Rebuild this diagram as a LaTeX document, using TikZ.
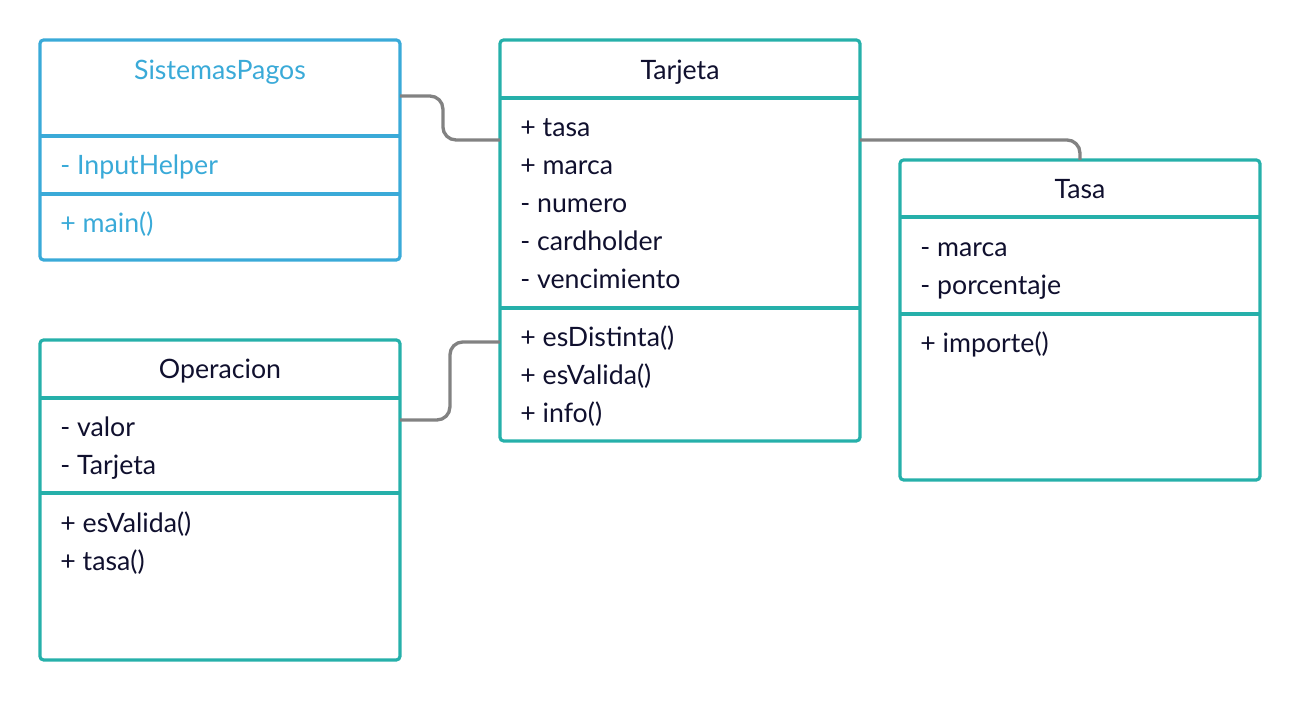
\documentclass[tikz,border=0pt]{standalone}
\usepackage{fontspec}
\setmainfont{Lato}
\usepackage{tikz}

\definecolor{umlteal}{HTML}{26B0AA}
\definecolor{umlblue}{HTML}{3AAAD8}
\definecolor{umltext}{HTML}{10102E}
\definecolor{umlgray}{HTML}{828282}

\tikzset{
  classbox/.style={draw=umlteal, line width=1.8pt, rounded corners=2pt, anchor=north west,
    inner sep=0pt, outer sep=0pt, minimum width=7.2cm},
  divider/.style={draw=umlteal, line width=1.8pt},
  title/.style={font=\fontsize{15.2}{18}\selectfont, text=umltext, inner sep=0pt,
    text height=10pt, text depth=3pt},
  member/.style={title, anchor=west},
  link/.style={draw=umlgray, line width=1.9pt, rounded corners=0.26cm}
}

\begin{document}
\begin{tikzpicture}[x=0.02cm, y=-0.02cm]
  \useasboundingbox (0,0) rectangle (1301,700);

  % SistemasPagos
  \node[classbox, draw=umlblue, minimum height=4.4cm] (sistemas) at (40,40) {};
  \draw[divider, umlblue] (40,136) -- (400,136);
  \draw[divider, umlblue] (40,194) -- (400,194);
  \node[title, text=umlblue] (sistemas-t) at (220,73) {SistemasPagos};
  \node[member, text=umlblue] (sistemas-a1) at (60,168) {- InputHelper};
  \node[member, text=umlblue] (sistemas-m1) at (60,226) {+ main()};

  % Tarjeta
  \node[classbox, minimum height=8.02cm] (tarjeta) at (500,40) {};
  \draw[divider] (500,98) -- (860,98);
  \draw[divider] (500,308) -- (860,308);
  \node[title] (tarjeta-t) at (680,73) {Tarjeta};
  \node[member] (tarjeta-a1) at (520,130) {+ tasa};
  \node[member] (tarjeta-a2) at (520,168) {+ marca};
  \node[member] (tarjeta-a3) at (520,206) {- numero};
  \node[member] (tarjeta-a4) at (520,244) {- cardholder};
  \node[member] (tarjeta-a5) at (520,282) {- vencimiento};
  \node[member] (tarjeta-m1) at (520,340) {+ esDistinta()};
  \node[member] (tarjeta-m2) at (520,378) {+ esValida()};
  \node[member] (tarjeta-m3) at (520,416) {+ info()};

  % Tasa
  \node[classbox, minimum height=6.4cm] (tasa) at (900,160) {};
  \draw[divider] (900,217) -- (1260,217);
  \draw[divider] (900,314) -- (1260,314);
  \node[title] (tasa-t) at (1080,192) {Tasa};
  \node[member] (tasa-a1) at (920,250) {- marca};
  \node[member] (tasa-a2) at (920,288) {- porcentaje};
  \node[member] (tasa-m1) at (920,346) {+ importe()};

  % Operacion
  \node[classbox, minimum height=6.4cm] (operacion) at (40,340) {};
  \draw[divider] (40,398) -- (400,398);
  \draw[divider] (40,493) -- (400,493);
  \node[title] (operacion-t) at (220,372) {Operacion};
  \node[member] (operacion-a1) at (60,430) {- valor};
  \node[member] (operacion-a2) at (60,468) {- Tarjeta};
  \node[member] (operacion-m1) at (60,526) {+ esValida()};
  \node[member] (operacion-m2) at (60,564) {+ tasa()};

  % links
  \draw[link] ([yshift=-1.12cm]sistemas.north east) -- ++(43,0) |- ([yshift=-2cm]tarjeta.north west);
  \draw[link] ([yshift=-2cm]tarjeta.north east) -| (tasa.north);
  \draw[link] ([yshift=-1.6cm]operacion.north east) -- ++(50,0) |- ([yshift=-6.04cm]tarjeta.north west);
\end{tikzpicture}
\end{document}
